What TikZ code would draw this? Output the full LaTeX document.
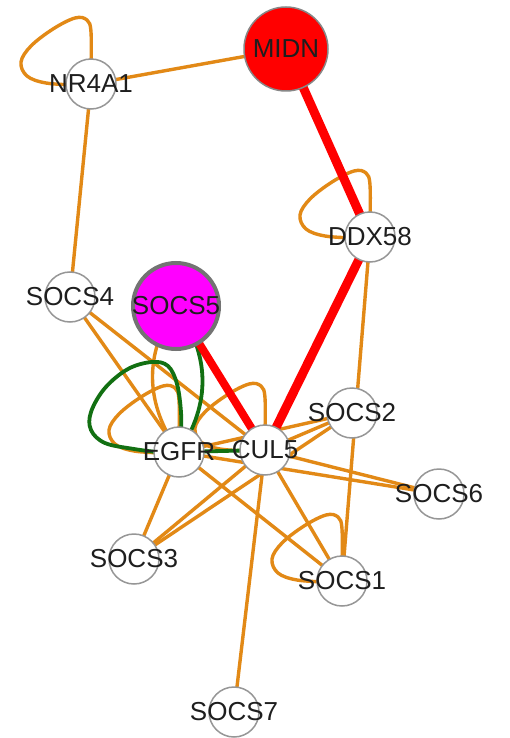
\documentclass[tikz,border=0pt]{standalone}
\usepackage{fontspec}
\setmainfont{Liberation Sans}
\pgfdeclarelayer{back}
\pgfdeclarelayer{bg}
\pgfsetlayers{back,bg,main}
\definecolor{eor}{RGB}{226,137,22}
\definecolor{egr}{RGB}{18,112,18}
\definecolor{ered}{RGB}{255,0,0}
\definecolor{emag}{RGB}{255,0,255}
\definecolor{nbd}{RGB}{150,150,150}
\definecolor{txt}{RGB}{30,30,30}
% orange self-loop on node #1
\newcommand\selfloop[1]{%
  \begin{scope}[shift={(#1.center)}]
    \draw[oe] plot[smooth,tension=0.6] coordinates {(-15,1) (-45,-1) (-64,-8) (-70,-22) (-60,-38) (-38,-55) (-16,-66) (-4,-64) (0,-52) (0,-15)};
  \end{scope}}
\begin{document}
\begin{tikzpicture}[x=1pt,y=-1pt,
  gn/.style={circle,draw=nbd,line width=1.5pt,fill=white,minimum size=50pt,inner sep=0pt},
  lbl/.style={font=\fontsize{26}{30}\selectfont,text=txt,inner sep=0pt},
  oe/.style={draw=eor,line width=3.4pt},
  ge/.style={draw=egr,line width=3.8pt},
  re/.style={draw=ered,line width=9pt},
]
\begin{pgfonlayer}{back}
  \fill[white] (0,0) rectangle (509,738);
\end{pgfonlayer}
\useasboundingbox (0,0) rectangle (509,738);

\node[gn, label={[lbl]center:NR4A1}] (nr) at (91,84) {};
\node[gn, fill=ered, draw=nbd!90!black, minimum size=84pt, label={[lbl]center:MIDN}] (midn) at (286,49) {};
\node[gn, label={[lbl]center:DDX58}] (ddx) at (370,237) {};
\node[gn, label={[lbl]center:SOCS4}] (s4) at (70,297) {};
\node[gn, fill=emag, draw=black!55, line width=4pt, minimum size=86pt, label={[lbl]center:SOCS5}] (s5) at (176,306) {};
\node[gn, label={[lbl]center:EGFR}] (egfr) at (179,452) {};
\node[gn, label={[lbl]center:CUL5}] (cul5) at (265,450) {};
\node[gn, label={[lbl]center:SOCS2}] (s2) at (352,413) {};
\node[gn, label={[lbl]center:SOCS6}] (s6) at (439,494) {};
\node[gn, label={[lbl]center:SOCS1}] (s1) at (342,581) {};
\node[gn, label={[lbl]center:SOCS3}] (s3) at (134,559) {};
\node[gn, label={[lbl]center:SOCS7}] (s7) at (234,712) {};

\begin{pgfonlayer}{bg}
  % orange edges
  \draw[oe] (nr.center) -- (midn.center);
  \draw[oe] (nr.center) -- (s4.center);
  \draw[oe] (ddx.center) -- (s1.center);
  \draw[oe] (s4.center) -- (egfr.center);
  \draw[oe] (s4.center) -- (cul5.center);
  \draw[oe] (egfr.center) -- (s2.center);
  \draw[oe] (cul5.center) -- (s2.center);
  \draw[oe] (s3.center) -- (s2.center);
  \draw[oe] (cul5.center) -- (s6.center);
  \draw[oe] (egfr.center) -- (s6.center);
  \draw[oe] (egfr.center) -- (s1.center);
  \draw[oe] (cul5.center) -- (s1.center);
  \draw[oe] (cul5.center) -- (s3.center);
  \draw[oe] (egfr.center) -- (s3.center);
  \draw[oe] (cul5.center) -- (s7.center);
  \draw[oe] (s5.center) .. controls +(-32.3,48.7) and +(-34.3,-48.7) .. (egfr.center);
  \selfloop{nr}
  \selfloop{ddx}
  \selfloop{egfr}
  \selfloop{cul5}
  \selfloop{s1}
  % green edges
  \begin{scope}[shift={(egfr.center)}]
    \draw[ge] plot[smooth,tension=0.6] coordinates {(-15,1) (-45,-3) (-74,-9) (-88,-22) (-88,-40) (-74,-64) (-51,-83) (-27,-90) (-11,-86) (-2,-68) (2,-40) (2,-15)};
  \end{scope}
  \draw[ge] (s5.center) .. controls +(34.3,48.7) and +(32.3,-48.7) .. (egfr.center);
  \draw[ge] (egfr.center) -- (cul5.center);
  % red edges
  \draw[re] (midn.center) -- (ddx.center);
  \draw[re] (ddx.center) -- (cul5.center);
  \draw[re, line width=8pt] (s5.center) -- (cul5.center);
\end{pgfonlayer}
\end{tikzpicture}
\end{document}
